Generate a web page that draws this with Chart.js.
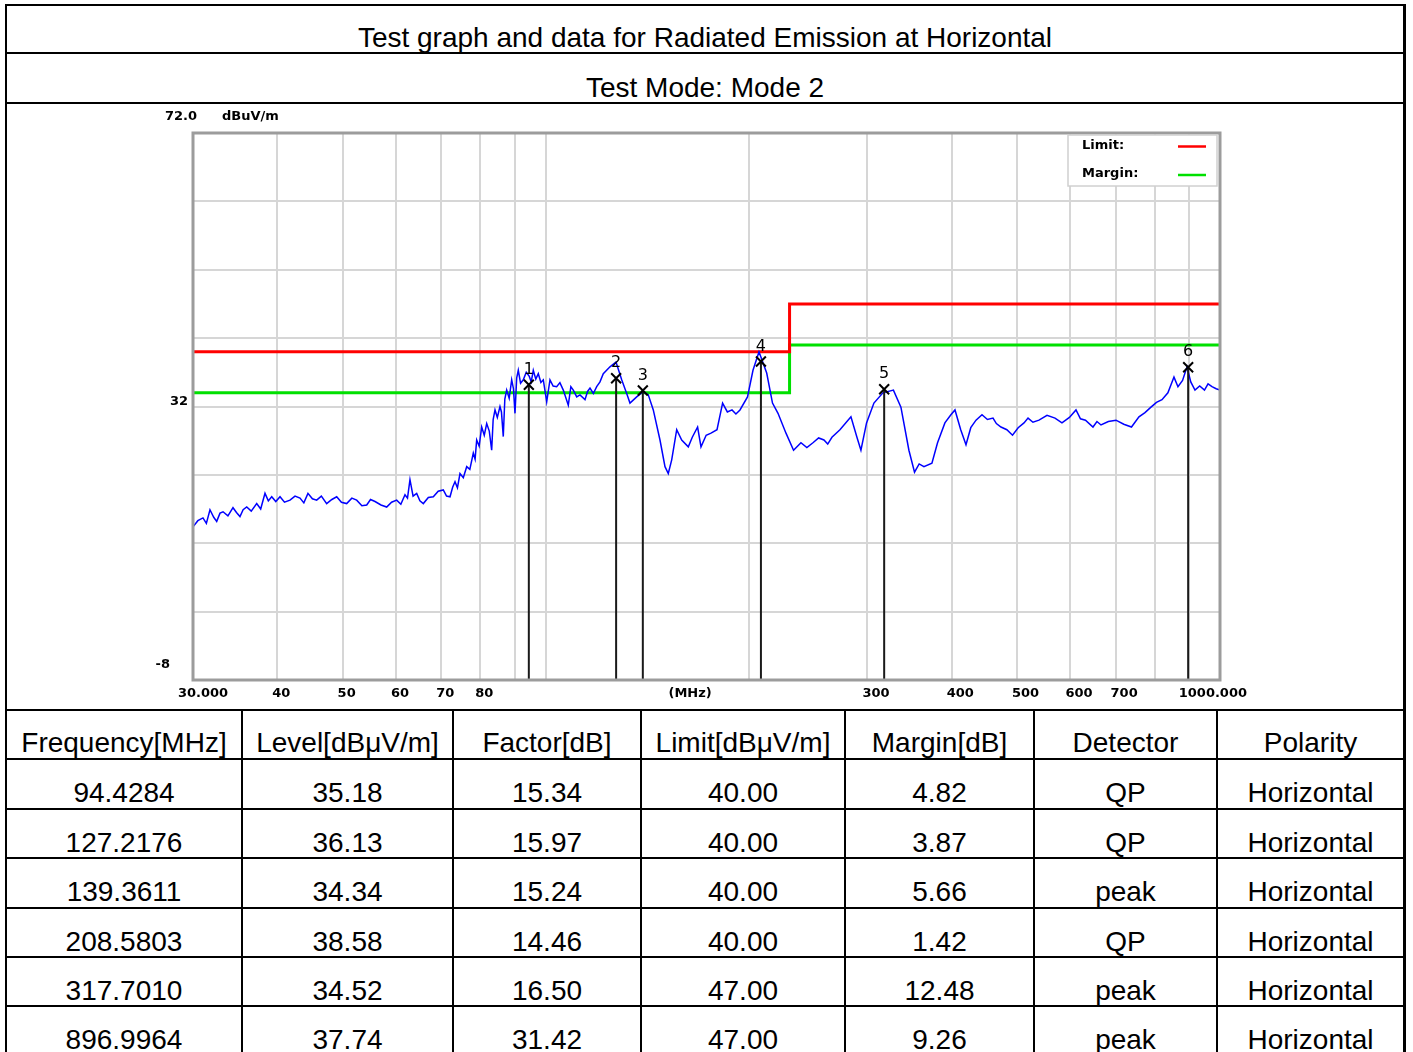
<!DOCTYPE html>
<html>
<head>
<meta charset="utf-8">
<title>Radiated Emission - Horizontal</title>
<script src="https://cdn.jsdelivr.net/npm/chart.js@4.4.1/dist/chart.umd.min.js"></script>
<style>
  body { margin: 0; background: #fff; }
  #page { position: relative; width: 1413px; height: 1052px; overflow: hidden; background: #fff;
          font-family: "Liberation Sans", Arial, sans-serif; color: #000; }
  .hl { position: absolute; height: 2px; background: #000; }
  .vl { position: absolute; width: 2px; background: #000; }
  .txt { position: absolute; font-size: 28px; line-height: 28px; text-align: center; white-space: nowrap; }
  #chartBox { position: absolute; left: 110px; top: 104px; width: 1152px; height: 605px; }
</style>
</head>
<body>
<div id="page">
  <div id="chartBox"><canvas id="emiChart" width="1152" height="605"></canvas></div>
</div>

<script>
// ---- chart data ----
var traceFreq = [30.0, 30.5, 31.04, 31.4, 31.79, 32.2, 32.53, 32.9, 33.24, 33.8, 34.39, 34.8, 35.22, 35.6,
  36.04, 36.6, 37.29, 37.8, 38.36, 38.8, 39.25, 39.8, 40.38, 41.0, 41.78, 42.5, 43.23, 43.8, 44.42, 45.1,
  45.76, 46.5, 47.35, 48.2, 49.0, 49.8, 50.7, 51.6, 52.46, 53.4, 54.29, 55.0, 55.85, 57.0, 58.12, 59.1,
  60.14, 61.0, 61.87, 62.4, 62.93, 63.6, 64.39, 65.1, 65.86, 67.0, 68.15, 69.3, 70.51, 71.3, 72.15, 72.8,
  73.39, 74.0, 74.65, 75.5, 76.38, 77.2, 78.12, 78.6, 79.03, 79.7, 80.39, 81.1, 81.78, 82.5, 83.18, 83.6,
  84.13, 84.8, 85.57, 86.0, 86.54, 87.0, 87.55, 88.3, 89.06, 89.6, 90.07, 90.6, 91.09, 91.8, 92.66, 93.6,
  94.58, 95.2, 95.88, 96.7, 97.53, 98.4, 99.21, 100.37, 101.5, 102.6, 103.85, 105.0, 106.22, 108.05, 109.0,
  109.91, 111.2, 112.45, 114.39, 115.4, 116.36, 117.7, 119.05, 120.4, 121.76, 124.58, 127.16, 129.66,
  131.89, 133.38, 136.47, 139.59, 141.99, 144.43, 147.77, 150.32, 152.02, 153.8, 156.45, 159.14, 162.77,
  165.0, 168.02, 169.98, 173.0, 175.89, 179.53, 182.99, 186.0, 188.96, 191.5, 194.19, 199.23, 203.0,
  207.21, 212.73, 216.98, 221.1, 227.21, 233.16, 239.12, 244.0, 249.12, 254.0, 258.65, 262.0, 265.81,
  273.17, 283.63, 289.49, 293.47, 299.14, 306.78, 316.35, 327.9, 336.4, 345.7, 352.4, 358.0, 363.9,
  373.96, 381.2, 390.9, 399.0, 404.6, 412.6, 420.1, 427.0, 434.7, 443.7, 452.0, 460.7, 466.0, 473.4,
  483.0, 492.4, 502.0, 512.1, 519.2, 528.0, 539.0, 554.0, 569.3, 583.0, 598.0, 611.6, 621.0, 631.7,
  648.1, 657.0, 666.1, 683.0, 701.1, 720.0, 739.2, 758.3, 774.0, 790.0, 805.0, 820.3, 837.0, 854.6,
  866.3, 880.0, 893.4, 905.0, 918.1, 933.0, 948.4, 960.0, 973.0, 987.0, 1000];
var traceLevel = [14.4, 15.3, 15.7, 14.9, 16.9, 15.8, 15.2, 16.4, 16.6, 16.0, 17.2, 16.5, 15.9, 16.9,
  17.3, 16.7, 17.8, 17.0, 19.3, 18.2, 18.8, 18.1, 18.8, 18.0, 18.3, 18.9, 18.6, 17.9, 19.3, 18.5,
  18.3, 18.9, 17.8, 18.4, 18.8, 18.0, 17.8, 18.6, 18.3, 17.5, 17.6, 18.4, 18.1, 17.6, 17.3, 18.0,
  18.3, 17.7, 19.1, 18.6, 21.3, 18.9, 19.3, 18.2, 17.8, 18.7, 18.8, 19.6, 19.8, 18.9, 18.8, 20.2,
  21.0, 20.1, 22.2, 21.6, 23.2, 22.8, 25.2, 24.3, 27.1, 26.2, 29.0, 27.8, 29.5, 28.4, 25.6, 30.1,
  31.5, 30.4, 32.0, 31.2, 27.6, 33.1, 34.4, 33.2, 35.9, 34.6, 31.0, 36.2, 37.3, 35.4, 35.9, 37.0,
  36.4, 35.6, 37.3, 36.0, 36.8, 35.5, 35.9, 32.7, 35.9, 35.0, 34.9, 35.5, 34.4, 32.2, 34.9,
  34.4, 33.4, 33.7, 33.0, 34.2, 34.7, 33.9, 34.9, 35.6, 36.8, 37.8, 38.5, 35.9,
  33.9, 32.5, 33.4, 34.2, 33.7, 31.5, 27.1, 23.2, 22.2, 24.2, 28.6, 27.1, 26.1,
  27.5, 29.0, 26.1, 27.8, 28.1, 28.6, 32.5, 31.2, 31.5, 30.9, 31.5, 33.4, 37.3,
  40.0, 36.9, 32.5, 31.0, 28.1, 25.6, 26.7, 26.0, 26.7, 27.4, 27.1, 26.5, 27.5,
  28.6, 30.5, 27.5, 25.6, 29.6, 32.5, 34.0, 34.4, 31.9, 25.6, 22.4, 23.6, 23.2,
  23.7, 26.7, 29.6, 30.8, 31.5, 28.6, 26.4, 28.9, 30.0, 30.8, 30.1, 30.3, 29.5, 29.0,
  28.6, 27.8, 28.9, 29.6, 30.3, 29.7, 30.0, 30.7, 30.3, 29.6, 30.4, 31.5, 30.2, 30.0,
  29.0, 29.8, 29.3, 29.8, 30.0, 29.4, 29.0, 30.5, 31.1, 31.9, 32.6, 33.0, 34.0, 36.3,
  34.9, 35.8, 37.8, 35.6, 34.4, 35.0, 34.4, 35.3, 34.9, 34.6, 34.4];

var limitFreq = [30, 230, 230, 1000];
var limitLevel = [40, 40, 47, 47];
var marginLevel = [34, 34, 41, 41];

var yMin = -8, yMax = 72;
var yTickLabels = ['72.0', '32', '-8'];
var yTickValues = [72, 32, -8];
var xGridValues = [30, 40, 50, 60, 70, 80, 90, 100, 200, 300, 400, 500, 600, 700, 800, 900, 1000];
var xTickValues = [30, 40, 50, 60, 70, 80, 300, 400, 500, 600, 700, 1000];
var xTickLabels = ['30.000', '40', '50', '60', '70', '80', '300', '400', '500', '600', '700', '1000.000'];

// ---- table data ----
var titleText = 'Test graph and data for Radiated Emission at Horizontal';
var modeText = 'Test Mode: Mode 2';
var headers = ['Frequency[MHz]', 'Level[dBμV/m]', 'Factor[dB]', 'Limit[dBμV/m]', 'Margin[dB]', 'Detector', 'Polarity'];
var freqs = ['94.4284', '127.2176', '139.3611', '208.5803', '317.7010', '896.9964'];
var levels = ['35.18', '36.13', '34.34', '38.58', '34.52', '37.74'];
var factors = ['15.34', '15.97', '15.24', '14.46', '16.50', '31.42'];
var limits = ['40.00', '40.00', '40.00', '40.00', '47.00', '47.00'];
var margins = ['4.82', '3.87', '5.66', '1.42', '12.48', '9.26'];
var detectors = ['QP', 'QP', 'peak', 'QP', 'peak', 'peak'];
var polarities = ['Horizontal', 'Horizontal', 'Horizontal', 'Horizontal', 'Horizontal', 'Horizontal'];

// ---- page frame and table ----
var page = document.getElementById('page');
function addDiv(cls, css, text) {
    var d = document.createElement('div');
    d.className = cls;
    Object.assign(d.style, css);
    if (text !== undefined) d.textContent = text;
    page.appendChild(d);
    return d;
}

var colEdges = [6, 242, 453, 641, 845, 1034, 1217, 1404];
var rowLines = [5, 53, 103, 710];
var rowTop0 = 710, rowH = 49.4;
for (var r = 1; r <= 6; r++) rowLines.push(Math.round(rowTop0 + r * rowH));

rowLines.forEach(function(y) {
    addDiv('hl', { left: '6px', top: (y - 1) + 'px', width: '1400px' });
});
addDiv('vl', { left: '5px', top: '4px', height: '1048px' });
addDiv('vl', { left: '1403px', top: '4px', height: '1048px', width: '3px' });
colEdges.slice(1, -1).forEach(function(x) {
    addDiv('vl', { left: (x - 1) + 'px', top: '709px', height: '343px' });
});

addDiv('txt', { left: '6px', width: '1398px', top: '24px' }, titleText);
addDiv('txt', { left: '6px', width: '1398px', top: '74px' }, modeText);

var columns = [freqs, levels, factors, limits, margins, detectors, polarities];
headers.forEach(function(h, c) {
    var css = { left: colEdges[c] + 'px', width: (colEdges[c + 1] - colEdges[c]) + 'px' };
    addDiv('txt', Object.assign({ top: '729px' }, css), h);
    columns[c].forEach(function(v, i) {
        addDiv('txt', Object.assign({ top: Math.round(rowTop0 + (i + 1) * rowH + 20) + 'px' }, css), v);
    });
});

// ---- chart ----
var markerFreq = freqs.map(Number);
var markerLevel = levels.map(Number);

var tickFont = 'bold 13px "DejaVu Sans", sans-serif';

var overlay = {
    id: 'overlay',
    afterDraw: function(chart) {
        var ctx = chart.ctx, a = chart.chartArea;
        var xs = chart.scales.x, ys = chart.scales.y;
        ctx.save();

        // plot frame
        ctx.strokeStyle = '#9c9c9c';
        ctx.lineWidth = 3;
        ctx.strokeRect(a.left, a.top, a.right - a.left, a.bottom - a.top);

        // marker numbers
        ctx.fillStyle = '#000';
        ctx.font = '16px "DejaVu Sans", sans-serif';
        ctx.textAlign = 'center';
        ctx.textBaseline = 'middle';
        markerFreq.forEach(function(f, i) {
            ctx.fillText(String(i + 1), xs.getPixelForValue(f), ys.getPixelForValue(markerLevel[i]) - 15);
        });

        // y labels
        ctx.font = tickFont;
        ctx.textBaseline = 'middle';
        ctx.textAlign = 'left';
        ctx.fillText(yTickLabels[0], a.left - 28, a.top - 16);
        ctx.fillText('dBuV/m', a.left + 29, a.top - 16);
        ctx.textAlign = 'right';
        ctx.fillText(yTickLabels[1], a.left - 5, ys.getPixelForValue(yTickValues[1]) - 5);
        ctx.fillText(yTickLabels[2], a.left - 23, a.bottom - 15);

        // x labels
        var ly = a.bottom + 14;
        xTickValues.forEach(function(v, i) {
            var px = xs.getPixelForValue(v);
            if (i === 0) {
                ctx.textAlign = 'left';
                ctx.fillText(xTickLabels[i], px - 15, ly);
            } else if (i === xTickValues.length - 1) {
                ctx.textAlign = 'right';
                ctx.fillText(xTickLabels[i], px + 27, ly);
            } else {
                ctx.textAlign = 'left';
                ctx.fillText(xTickLabels[i], px - 5, ly);
            }
        });
        ctx.textAlign = 'center';
        ctx.fillText('(MHz)', a.left + (a.right - a.left) * 0.484, ly);

        // legend
        var lx = a.right - 152, lyTop = a.top + 2;
        ctx.fillStyle = '#fff';
        ctx.fillRect(lx, lyTop, 149, 51);
        ctx.strokeStyle = '#d0d0d0';
        ctx.lineWidth = 1.5;
        ctx.strokeRect(lx, lyTop, 149, 51);
        ctx.fillStyle = '#000';
        ctx.textAlign = 'left';
        ctx.fillText('Limit:', lx + 14, lyTop + 11);
        ctx.fillText('Margin:', lx + 14, lyTop + 39);
        ctx.lineWidth = 2.5;
        ctx.strokeStyle = '#ff0000';
        ctx.beginPath(); ctx.moveTo(lx + 110, lyTop + 11.5); ctx.lineTo(lx + 138, lyTop + 11.5); ctx.stroke();
        ctx.strokeStyle = '#00e000';
        ctx.beginPath(); ctx.moveTo(lx + 110, lyTop + 40); ctx.lineTo(lx + 138, lyTop + 40); ctx.stroke();

        ctx.restore();
    }
};

var datasets = [];
datasets.push({
    label: 'Markers',
    data: markerFreq.map(function(f, i) { return { x: f, y: markerLevel[i] }; }),
    showLine: false,
    pointStyle: 'crossRot',
    pointRadius: 7,
    pointBorderWidth: 2,
    pointBorderColor: '#000',
    borderColor: '#000',
    order: 0
});
markerFreq.forEach(function(f, i) {
    datasets.push({
        label: 'Marker ' + (i + 1),
        data: [{ x: f, y: yMin }, { x: f, y: markerLevel[i] }],
        borderColor: '#1a1a1a',
        borderWidth: 2,
        pointRadius: 0,
        order: 1
    });
});
datasets.push({
    label: 'Level',
    data: traceFreq.map(function(f, i) { return { x: f, y: traceLevel[i] }; }),
    borderColor: '#0000ff',
    borderWidth: 1.5,
    pointRadius: 0,
    tension: 0,
    order: 2
});
datasets.push({
    label: 'Limit',
    data: limitFreq.map(function(f, i) { return { x: f, y: limitLevel[i] }; }),
    borderColor: '#ff0000',
    borderWidth: 3,
    pointRadius: 0,
    order: 3
});
datasets.push({
    label: 'Margin',
    data: limitFreq.map(function(f, i) { return { x: f, y: marginLevel[i] }; }),
    borderColor: '#00e000',
    borderWidth: 3,
    pointRadius: 0,
    order: 4
});

new Chart(document.getElementById('emiChart'), {
    type: 'line',
    data: { datasets: datasets },
    options: {
        responsive: false,
        animation: false,
        devicePixelRatio: 1,
        layout: { padding: { left: 83, right: 42, top: 29, bottom: 29 } },
        plugins: { legend: { display: false }, tooltip: { enabled: false } },
        scales: {
            x: {
                type: 'logarithmic',
                min: 30,
                max: 1000,
                afterBuildTicks: function(scale) {
                    scale.ticks = xGridValues.map(function(v) { return { value: v }; });
                },
                afterFit: function(scale) { scale.height = 0; },
                ticks: { display: false },
                border: { display: false },
                grid: { color: '#d6d6d6', lineWidth: 2, drawTicks: false }
            },
            y: {
                min: yMin,
                max: yMax,
                ticks: { display: false, stepSize: 10 },
                afterFit: function(scale) { scale.width = 0; },
                border: { display: false },
                grid: { color: '#d6d6d6', lineWidth: 2, drawTicks: false }
            }
        }
    },
    plugins: [overlay]
});
</script>
</body>
</html>
